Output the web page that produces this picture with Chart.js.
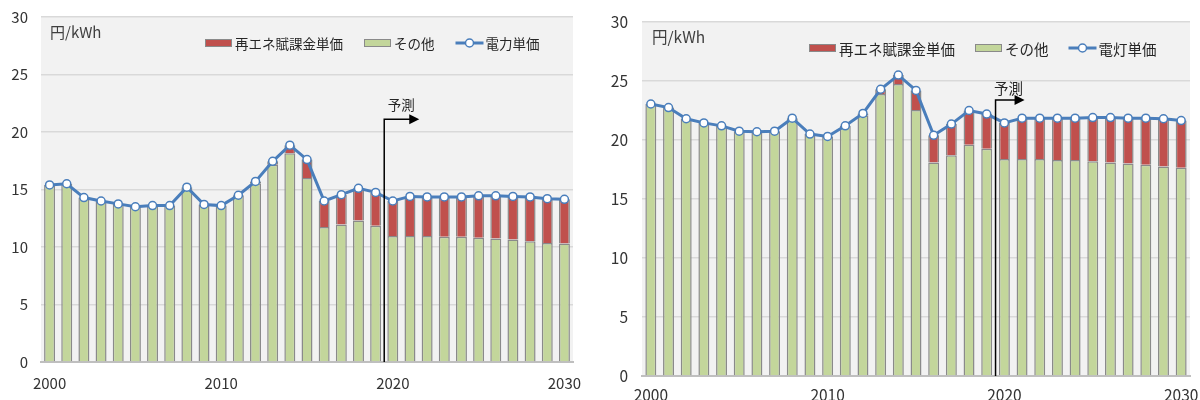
<!DOCTYPE html>
<html lang="ja">
<head>
<meta charset="utf-8">
<title>電力・電灯単価の推移と予測</title>
<script src="https://cdn.jsdelivr.net/npm/chart.js@4.4.1/dist/chart.umd.min.js"></script>
<style>
  html, body { margin: 0; padding: 0; background: #ffffff; }
  #wrap { position: relative; width: 1200px; height: 400px; overflow: hidden; }
  .panel { position: absolute; top: 0; }
</style>
</head>
<body>
<div id="wrap">
  <div class="panel" style="left:0;"><canvas id="power" width="595" height="400"></canvas></div>
  <div class="panel" style="left:600px;"><canvas id="lighting" width="600" height="400"></canvas></div>
</div>
<script>
// Fiscal years on the horizontal axis
const years = ['2000','2001','2002','2003','2004','2005','2006','2007','2008','2009',
               '2010','2011','2012','2013','2014','2015','2016','2017','2018','2019',
               '2020','2021','2022','2023','2024','2025','2026','2027','2028','2029','2030'];
const yearTickLabels = ['2000','2010','2020','2030'];

// 電力 (business / industrial) unit price, 円/kWh
const powerOther = [15.4, 15.5, 14.3, 14.0, 13.75, 13.5, 13.6, 13.6, 15.2, 13.7,
                    13.6, 14.5, 15.55, 17.15, 18.15, 16.0, 11.75, 11.95, 12.3, 11.85,
                    10.95, 10.95, 10.95, 10.9, 10.9, 10.8, 10.75, 10.65, 10.5, 10.35, 10.3];
const powerLevy  = [0, 0, 0, 0, 0, 0, 0, 0, 0, 0,
                    0, 0, 0.15, 0.3, 0.7, 1.6, 2.25, 2.6, 2.8, 2.9,
                    3.05, 3.45, 3.4, 3.45, 3.45, 3.65, 3.7, 3.75, 3.85, 3.85, 3.85];
const powerPrice = [15.4, 15.5, 14.3, 14.0, 13.75, 13.5, 13.6, 13.6, 15.2, 13.7,
                    13.6, 14.5, 15.7, 17.45, 18.85, 17.6, 14.0, 14.55, 15.1, 14.75,
                    14.0, 14.4, 14.35, 14.35, 14.35, 14.45, 14.45, 14.4, 14.35, 14.2, 14.15];

// 電灯 (household) unit price, 円/kWh
const lightingOther = [23.05, 22.75, 21.8, 21.45, 21.2, 20.75, 20.7, 20.75, 21.85, 20.5,
                       20.3, 21.2, 22.05, 23.9, 24.75, 22.55, 18.1, 18.7, 19.6, 19.25,
                       18.4, 18.4, 18.4, 18.3, 18.3, 18.2, 18.1, 18.0, 17.9, 17.75, 17.65];
const lightingLevy  = [0, 0, 0, 0, 0, 0, 0, 0, 0, 0,
                       0, 0, 0.2, 0.4, 0.75, 1.65, 2.3, 2.65, 2.9, 2.95,
                       3.05, 3.45, 3.45, 3.55, 3.55, 3.7, 3.8, 3.85, 3.95, 4.05, 4.0];
const lightingPrice = [23.05, 22.75, 21.8, 21.45, 21.2, 20.75, 20.7, 20.75, 21.85, 20.5,
                       20.3, 21.2, 22.25, 24.3, 25.5, 24.2, 20.4, 21.35, 22.5, 22.2,
                       21.45, 21.85, 21.85, 21.85, 21.85, 21.9, 21.9, 21.85, 21.85, 21.8, 21.65];

// Forecast starts between FY2019 and FY2020 (category index 19.5)
const forecastFrom = 19.5;

const FONT = '"Noto Sans CJK JP", "Noto Sans", sans-serif';
const C_LEVY = '#c0504d';
const C_OTHER = '#c3d69b';
const C_LINE = '#4a7ebb';
const C_EDGE = '#8a8a8a';

// Plot background, unit label, in-plot legend and the forecast arrow
const decorations = {
  id: 'decorations',
  beforeDraw(chart, args, o) {
    const a = chart.chartArea, ctx = chart.ctx;
    ctx.save();
    ctx.fillStyle = '#f2f2f2';
    ctx.fillRect(a.left, a.top, a.right - a.left, a.bottom - a.top);
    ctx.restore();
  },
  afterDatasetsDraw(chart, args, o) {
    const a = chart.chartArea, ctx = chart.ctx;
    const xs = chart.scales.x, ys = chart.scales.y;
    ctx.save();

    // unit label
    ctx.fillStyle = '#404040';
    ctx.font = o.unitSize + 'px ' + FONT;
    ctx.textBaseline = 'middle';
    ctx.textAlign = 'left';
    ctx.fillText('円/kWh', a.left + o.unitDx, a.top + o.unitDy);

    // forecast marker
    const fx = xs.getPixelForValue(forecastFrom);
    const fy = ys.getPixelForValue(o.arrowTop);
    ctx.strokeStyle = '#000000';
    ctx.lineWidth = 1.5;
    ctx.beginPath();
    ctx.moveTo(fx, a.bottom);
    ctx.lineTo(fx, fy);
    ctx.lineTo(fx + o.arrowLen - 8, fy);
    ctx.stroke();
    ctx.fillStyle = '#000000';
    ctx.beginPath();
    ctx.moveTo(fx + o.arrowLen, fy);
    ctx.lineTo(fx + o.arrowLen - 10, fy - 5);
    ctx.lineTo(fx + o.arrowLen - 10, fy + 5);
    ctx.closePath();
    ctx.fill();
    ctx.fillStyle = '#262626';
    ctx.font = o.legendSize + 'px ' + FONT;
    ctx.textAlign = 'center';
    ctx.textBaseline = 'middle';
    ctx.fillText('予測', fx + o.textDx, fy - o.textDy);

    // legend: levy, other, line
    const ds = chart.data.datasets;
    const items = [ds[1], ds[0], ds[2]];
    let x = a.left + o.legendDx;
    const y = a.top + o.legendDy;
    ctx.textAlign = 'left';
    ctx.font = o.legendSize + 'px ' + FONT;
    items.forEach(d => {
      if (d.type === 'line') {
        ctx.strokeStyle = C_LINE;
        ctx.lineWidth = 3;
        ctx.beginPath();
        ctx.moveTo(x, y);
        ctx.lineTo(x + 28, y);
        ctx.stroke();
        ctx.beginPath();
        ctx.arc(x + 14, y, 4, 0, Math.PI * 2);
        ctx.fillStyle = '#ffffff';
        ctx.fill();
        ctx.lineWidth = 1.5;
        ctx.stroke();
        x += 30;
      } else {
        ctx.fillStyle = d.backgroundColor;
        ctx.fillRect(x, y - 4, 27, 8);
        ctx.strokeStyle = C_EDGE;
        ctx.lineWidth = 1;
        ctx.strokeRect(x + 0.5, y - 3.5, 26, 7);
        x += 30;
      }
      ctx.fillStyle = '#262626';
      ctx.fillText(d.label, x, y + 1);
      x += ctx.measureText(d.label).width + o.legendGap;
    });
    ctx.restore();
  }
};

function buildChart(id, other, levy, price, lineLabel, g) {
  return new Chart(document.getElementById(id), {
    data: {
      labels: years,
      datasets: [
        { type: 'bar', label: 'その他', data: other, backgroundColor: C_OTHER,
          borderColor: C_EDGE, borderWidth: 1.5, stack: 'bars', order: 1,
          barPercentage: g.barPct, categoryPercentage: 1.0 },
        { type: 'bar', label: '再エネ賦課金単価', data: levy, backgroundColor: C_LEVY,
          borderColor: C_EDGE, borderWidth: 1.5, stack: 'bars', order: 1,
          barPercentage: g.barPct, categoryPercentage: 1.0 },
        { type: 'line', label: lineLabel, data: price, stack: 'line', order: 0,
          borderColor: C_LINE, borderWidth: 3, pointRadius: 4, pointBorderWidth: 1.5,
          pointBackgroundColor: '#ffffff', pointBorderColor: C_LINE, tension: 0 }
      ]
    },
    options: {
      responsive: false,
      animation: false,
      layout: { padding: { top: g.padTop, right: g.padRight, left: 0, bottom: 0 } },
      plugins: {
        legend: { display: false },
        tooltip: { enabled: false },
        decorations: g.deco
      },
      scales: {
        x: {
          stacked: true,
          grid: { display: false, drawTicks: false },
          border: { display: true, color: '#bfbfbf', width: 2 },
          ticks: {
            autoSkip: false, maxRotation: 0, padding: g.xPad, color: '#333333',
            font: { family: FONT, size: g.tickSize },
            callback(v) {
              const lab = years[v];
              return yearTickLabels.includes(lab) ? lab : '';
            }
          },
          afterFit(s) { s.height = g.xHeight; s.paddingLeft = 0; s.paddingRight = 0; }
        },
        y: {
          stacked: true, min: 0, max: 30,
          grid: { color: '#d9d9d9', lineWidth: 1.5, drawTicks: false },
          border: { display: false },
          ticks: { stepSize: 5, padding: g.yPad, color: '#333333',
                   font: { family: FONT, size: g.tickSize } },
          afterFit(s) { s.width = g.yWidth; s.paddingTop = 0; s.paddingBottom = 0; }
        }
      }
    },
    plugins: [decorations]
  });
}

buildChart('power', powerOther, powerLevy, powerPrice, '電力単価', {
  barPct: 0.64, padTop: 17, padRight: 22, xHeight: 38, yWidth: 41,
  xPad: 12, yPad: 13, tickSize: 15,
  deco: { unitSize: 15, unitDx: 9, unitDy: 15, arrowTop: 21.1, arrowLen: 35,
          textDx: 17, textDy: 14, legendSize: 13.5, legendDx: 164, legendDy: 26, legendGap: 21 }
});

buildChart('lighting', lightingOther, lightingLevy, lightingPrice, '電灯単価', {
  barPct: 0.62, padTop: 22, padRight: 10, xHeight: 24, yWidth: 42,
  xPad: 10, yPad: 14, tickSize: 15.5,
  deco: { unitSize: 15.5, unitDx: 10, unitDy: 15, arrowTop: 23.4, arrowLen: 29,
          textDx: 13, textDy: 11, legendSize: 14.5, legendDx: 167, legendDy: 26, legendGap: 20 }
});
</script>
</body>
</html>
